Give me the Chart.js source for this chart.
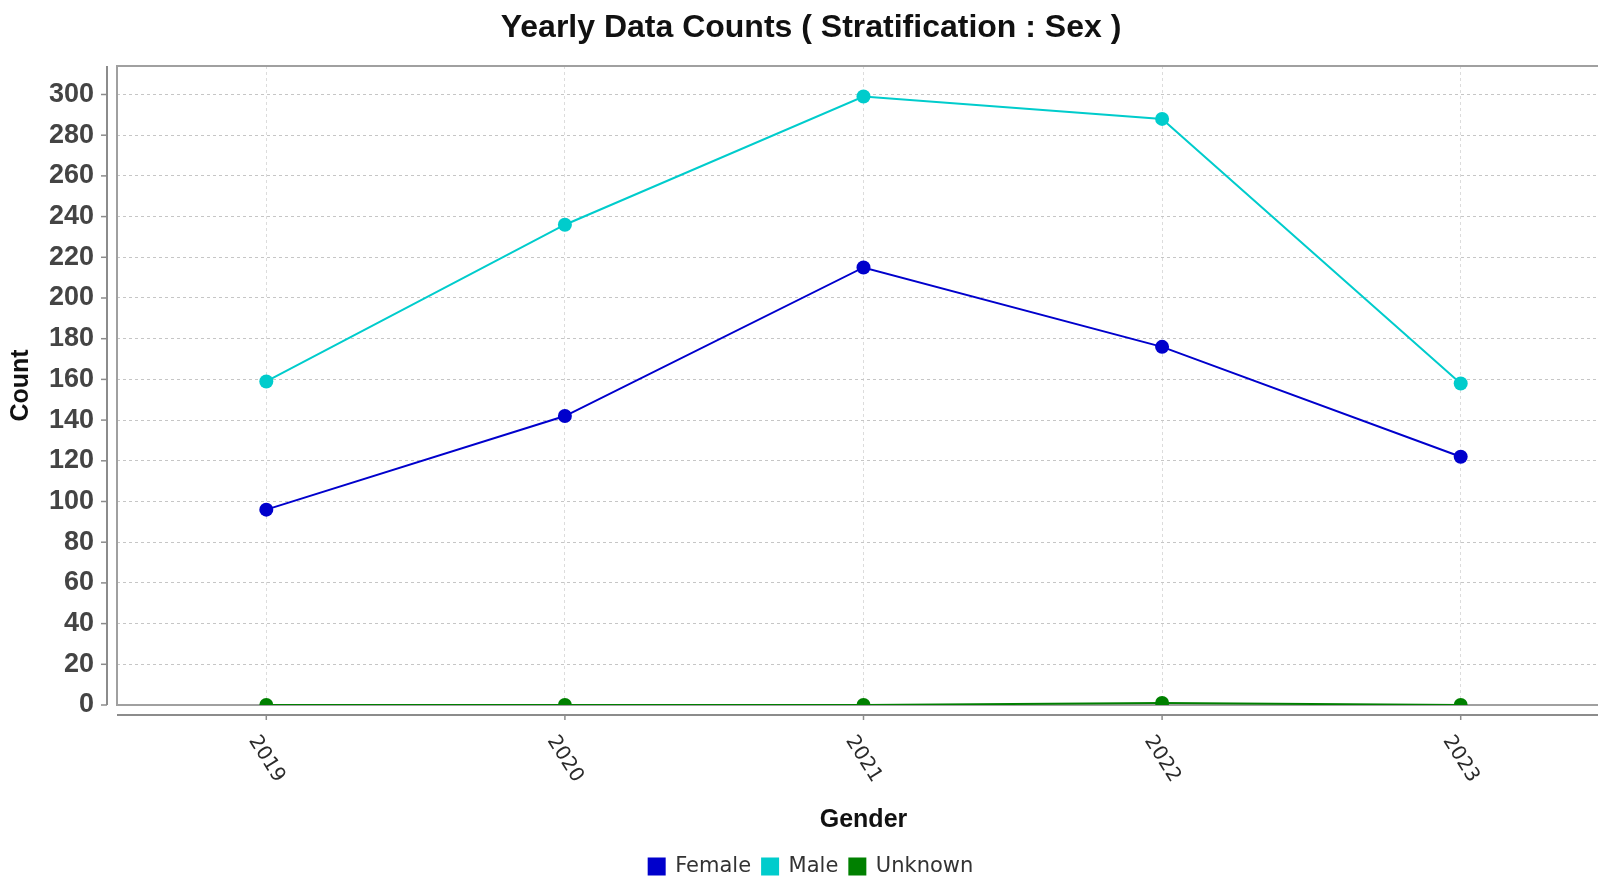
<!DOCTYPE html>
<html>
<head>
<meta charset="utf-8">
<script src="https://cdn.jsdelivr.net/npm/chart.js@4.4.1/dist/chart.umd.min.js"></script>
<style>
  html, body { margin: 0; padding: 0; overflow: hidden; background: #ffffff; }
  #wrap { width: 1622px; height: 887px; }
</style>
</head>
<body>
<div id="wrap"><canvas id="c" width="1622" height="887"></canvas></div>
<script>
// ---- data ----
const categories = ['2019', '2020', '2021', '2022', '2023'];
const femaleCounts = [96, 142, 215, 176, 122];
const maleCounts = [159, 236, 299, 288, 158];
const unknownCounts = [0, 0, 0, 1, 0];
const seriesNames = ['Female', 'Male', 'Unknown'];
const seriesColors = ['#0000CC', '#00CCCC', '#008000'];
const yTickStep = 20;
const yMax = 314;
const chartTitle = 'Yearly Data Counts ( Stratification : Sex )';
const xTitle = 'Gender';
const yTitle = 'Count';

// draws the offset axes, plot outline and rotated category labels
const axesPlugin = {
  id: 'offsetAxes',
  beforeDatasetsDraw(chart) {
    const { ctx, chartArea: a, scales: { x, y } } = chart;
    ctx.save();
    // plot outline
    ctx.strokeStyle = '#a0a0a0';
    ctx.lineWidth = 2;
    ctx.strokeRect(a.left, a.top, a.right - a.left, a.bottom - a.top);
    // y axis line + ticks
    const yAxisX = a.left - 10;
    ctx.strokeStyle = '#8c8c8c';
    ctx.beginPath(); ctx.moveTo(yAxisX, a.top); ctx.lineTo(yAxisX, a.bottom); ctx.stroke();
    ctx.lineWidth = 1.5;
    y.ticks.forEach((t, i) => {
      const py = y.getPixelForTick(i);
      ctx.beginPath(); ctx.moveTo(yAxisX - 6, py); ctx.lineTo(yAxisX, py); ctx.stroke();
    });
    // x axis line + ticks
    const xAxisY = a.bottom + 10;
    ctx.lineWidth = 2;
    ctx.beginPath(); ctx.moveTo(a.left, xAxisY); ctx.lineTo(a.right, xAxisY); ctx.stroke();
    ctx.lineWidth = 1.5;
    x.ticks.forEach((t, i) => {
      const px = x.getPixelForTick(i);
      ctx.beginPath(); ctx.moveTo(px, xAxisY); ctx.lineTo(px, xAxisY + 5); ctx.stroke();
    });
    // rotated category labels
    ctx.fillStyle = '#2a2a2a';
    ctx.font = '20px "DejaVu Sans"';
    ctx.textAlign = 'center';
    ctx.textBaseline = 'middle';
    x.ticks.forEach((t, i) => {
      const px = x.getPixelForTick(i);
      ctx.save();
      ctx.translate(px, xAxisY + 44);
      ctx.rotate(58 * Math.PI / 180);
      ctx.fillText(x.getLabelForValue(t.value), 0, 0);
      ctx.restore();
    });
    ctx.restore();
  }
};

const seriesValues = [femaleCounts, maleCounts, unknownCounts];
const datasets = seriesNames.map((name, i) => ({
  label: name,
  data: seriesValues[i],
  borderColor: seriesColors[i],
  backgroundColor: seriesColors[i],
  pointBackgroundColor: seriesColors[i],
  pointBorderColor: seriesColors[i],
  borderWidth: 2,
  pointRadius: 7,
  pointBorderWidth: 0,
  tension: 0,
  fill: false,
  clip: 0
}));

new Chart(document.getElementById('c'), {
  type: 'line',
  data: { labels: categories, datasets },
  plugins: [axesPlugin],
  options: {
    responsive: false,
    animation: false,
    devicePixelRatio: 1,
    layout: { padding: { left: 12, right: 12, top: 0, bottom: 0 } },
    plugins: {
      tooltip: { enabled: false },
      title: {
        display: true,
        text: chartTitle,
        color: '#111111',
        font: { family: '"Liberation Sans", Arial, sans-serif', size: 32, weight: 'bold', lineHeight: 1.2 },
        padding: { top: 9, bottom: 18.6 }
      },
      legend: {
        display: true,
        position: 'bottom',
        labels: {
          color: '#333333',
          font: { family: '"DejaVu Sans", sans-serif', size: 21 },
          boxWidth: 16,
          boxHeight: 16,
          padding: 11
        }
      }
    },
    scales: {
      x: {
        type: 'category',
        offset: true,
        grid: { display: true, drawTicks: false, color: '#dcdcdc', lineWidth: 1 },
        border: { display: false, dash: [3, 3] },
        ticks: { display: false },
        title: {
          display: true,
          text: xTitle,
          color: '#111111',
          font: { family: '"Liberation Sans", Arial, sans-serif', size: 25, weight: 'bold', lineHeight: 1.2 },
          padding: { top: 0, bottom: 10 }
        },
        afterFit(scale) { scale.height = 140; }
      },
      y: {
        min: 0,
        max: yMax,
        grid: { display: true, drawTicks: false, color: '#c6c6c6', lineWidth: 1 },
        border: { display: false, dash: [3, 3] },
        ticks: {
          stepSize: yTickStep,
          includeBounds: false,
          padding: 23,
          color: '#444444',
          font: { family: '"Liberation Sans", Arial, sans-serif', size: 27, weight: 'bold' }
        },
        title: {
          display: true,
          text: yTitle,
          color: '#111111',
          font: { family: '"Liberation Sans", Arial, sans-serif', size: 25, weight: 'bold', lineHeight: 0.72 },
          padding: { top: 0, bottom: 0 }
        },
        afterFit(scale) { scale.width = 105; }
      }
    }
  }
});
</script>
</body>
</html>
